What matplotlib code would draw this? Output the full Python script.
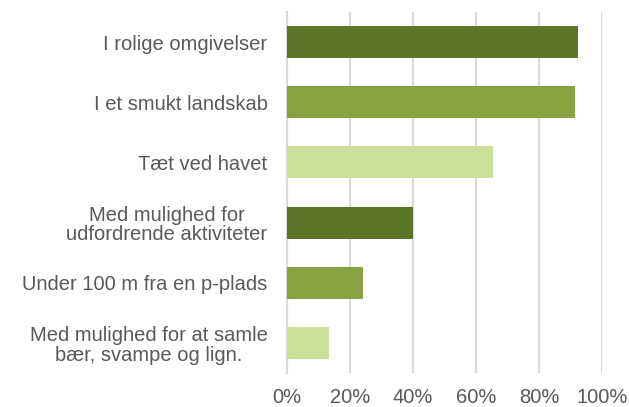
import matplotlib
matplotlib.use("Agg")
import matplotlib.pyplot as plt
from matplotlib.ticker import PercentFormatter

categories = [
    "I rolige omgivelser",
    "I et smukt landskab",
    "Tæt ved havet",
    "Med mulighed for\nudfordrende aktiviteter",
    "Under 100 m fra en p-plads",
    "Med mulighed for at samle\nbær, svampe og lign.",
]
values = [0.924, 0.914, 0.654, 0.40, 0.241, 0.133]
colors = ["#5B762A", "#87A340", "#CCDF9A", "#5B762A", "#87A340", "#CCDF9A"]
xticks = [0, 0.2, 0.4, 0.6, 0.8, 1.0]

plt.rcParams["font.family"] = ["Liberation Sans", "DejaVu Sans"]

fig = plt.figure(figsize=(6.29, 4.07), dpi=100)
ax = fig.add_axes([287 / 629, 1 - 373 / 407, 315 / 629, 361 / 407])

ypos = list(range(len(categories)))
ax.barh(ypos, values, height=0.53, color=colors, zorder=3)

ax.set_ylim(len(categories) - 0.5, -0.5)
ax.set_xlim(0, 1.0)
ax.set_xticks(xticks)
ax.xaxis.set_major_formatter(PercentFormatter(1.0, decimals=0))
ax.set_yticks(ypos)
ax.set_yticklabels(categories, multialignment="center", linespacing=1.05)

ax.grid(axis="x", color="#D9D9D9", linewidth=1.5, zorder=0)
for s in ["top", "right", "bottom"]:
    ax.spines[s].set_visible(False)
ax.spines["left"].set_color("#D9D9D9")
ax.spines["left"].set_linewidth(1.5)
ax.tick_params(axis="both", length=0, colors="#595959", labelsize=14.5)
ax.tick_params(axis="x", pad=11)
ax.tick_params(axis="y", pad=14)

fig.savefig("out.png", dpi=100)
